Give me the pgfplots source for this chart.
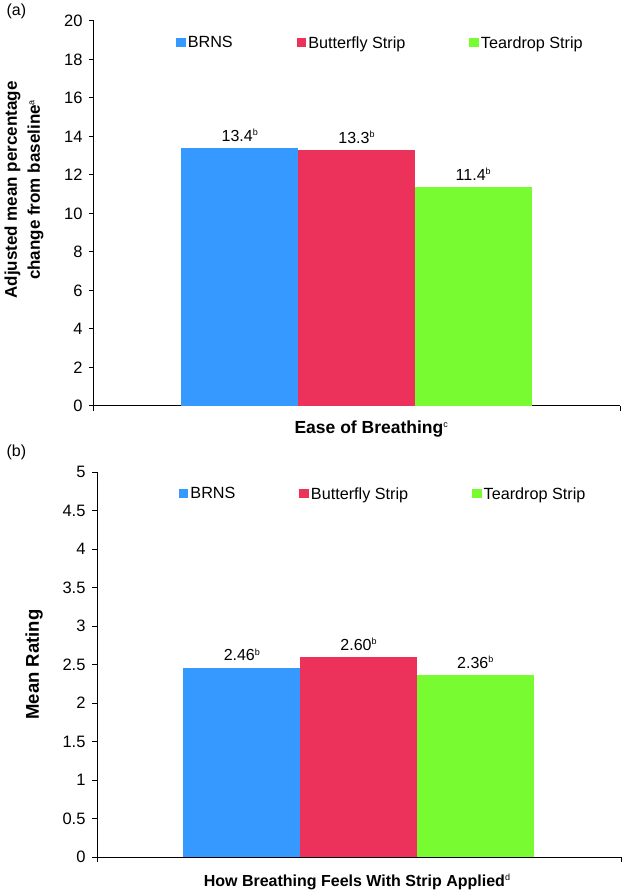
\documentclass[border=0pt]{standalone}
\usepackage{fontspec}
\setmainfont{Liberation Sans}
\usepackage{pgfplots}
\pgfplotsset{compat=1.18}
\definecolor{cBRNS}{RGB}{53,153,255}
\definecolor{cBut}{RGB}{236,50,90}
\definecolor{cTear}{RGB}{121,251,49}
\newcommand\sups[1]{\raisebox{5.6pt}{\fontsize{9}{9}\selectfont\mdseries #1}}
\pgfplotsset{
  sqlegend/.style={legend image code/.code={\fill[##1,draw=none] (0pt,-4.5pt) rectangle (9.5pt,4.5pt);}},
  panel/.style={
    scale only axis,
    axis x line*=bottom, axis y line*=left,
    axis line style={line width=1pt, black},
    tick align=outside, major tick length=5pt,
    tick style={line width=1pt, black},
    xticklabel=\empty,
    /pgf/number format/assume math mode=true,
    yticklabel style={font=\fontsize{16.5}{16.5}\selectfont, xshift=-3pt},
    legend columns=3,
    legend style={draw=none, fill=none, anchor=west, inner sep=0pt,
      font=\fontsize{16.2}{18}\selectfont,
      nodes={inner sep=2pt},
      /tikz/every even column/.append style={column sep=62pt}},
    every node near coord/.append style={font=\fontsize{16}{18}\selectfont, yshift=3pt, text=black},
  },
}
\begin{document}
\begin{tikzpicture}[x=1pt,y=1pt]
\useasboundingbox (0,0) rectangle (622,892);
\node[anchor=west, font=\fontsize{16}{18}\selectfont] at (3,881) {(a)};
\node[anchor=west, font=\fontsize{16}{18}\selectfont] at (3,440) {(b)};
\begin{axis}[panel,
  at={(94pt,486pt)}, anchor=south west, width=526pt, height=385pt,
  xmin=-0.249, xmax=4.258, ymin=0, ymax=20, ytick={0,2,...,20},
  xtick={-0.249,4.258},
  legend style={at={(0.156,0.943)}},
  ylabel={Adjusted mean percentage\\change from baseline\sups{a}},
  ylabel style={at={(axis description cs:-0.133,0.561)}, anchor=center, align=center, font=\bfseries\fontsize{17}{23}\selectfont},
  xlabel={Ease of Breathing\sups{c}},
  xlabel style={at={(axis description cs:0.527,-0.06)}, anchor=center, font=\bfseries\fontsize{17.5}{19}\selectfont},
  nodes near coords={\pgfmathprintnumber[fixed,fixed zerofill,precision=1]{\pgfplotspointmeta}\sups{b}},
]
\addplot[ybar, bar width=1, bar shift=0pt, fill=cBRNS, draw=none, sqlegend] coordinates {(1,13.4)};
\addplot[ybar, bar width=1, bar shift=0pt, fill=cBut, draw=none, sqlegend] coordinates {(2,13.3)};
\addplot[ybar, bar width=1, bar shift=0pt, fill=cTear, draw=none, sqlegend] coordinates {(3,11.4)};
\legend{BRNS, Butterfly Strip, Teardrop Strip}
\end{axis}
\begin{axis}[panel,
  at={(97pt,35pt)}, anchor=south west, width=524pt, height=385pt,
  xmin=-0.241, xmax=4.249, ymin=0, ymax=5, ytick={0,0.5,...,5},
  xtick={-0.241,4.249},
  legend style={at={(0.156,0.943)}},
  ylabel={Mean Rating},
  ylabel style={at={(axis description cs:-0.120,0.5)}, anchor=center, font=\bfseries\fontsize{18.5}{20}\selectfont},
  xlabel={How Breathing Feels With Strip Applied\sups{d}},
  xlabel style={at={(axis description cs:0.496,-0.065)}, anchor=center, font=\bfseries\fontsize{16}{18}\selectfont},
  nodes near coords={\pgfmathprintnumber[fixed,fixed zerofill,precision=2]{\pgfplotspointmeta}\sups{b}},
]
\addplot[ybar, bar width=1, bar shift=0pt, fill=cBRNS, draw=none, sqlegend] coordinates {(1,2.46)};
\addplot[ybar, bar width=1, bar shift=0pt, fill=cBut, draw=none, sqlegend] coordinates {(2,2.60)};
\addplot[ybar, bar width=1, bar shift=0pt, fill=cTear, draw=none, sqlegend] coordinates {(3,2.36)};
\legend{BRNS, Butterfly Strip, Teardrop Strip}
\end{axis}
\end{tikzpicture}
\end{document}
